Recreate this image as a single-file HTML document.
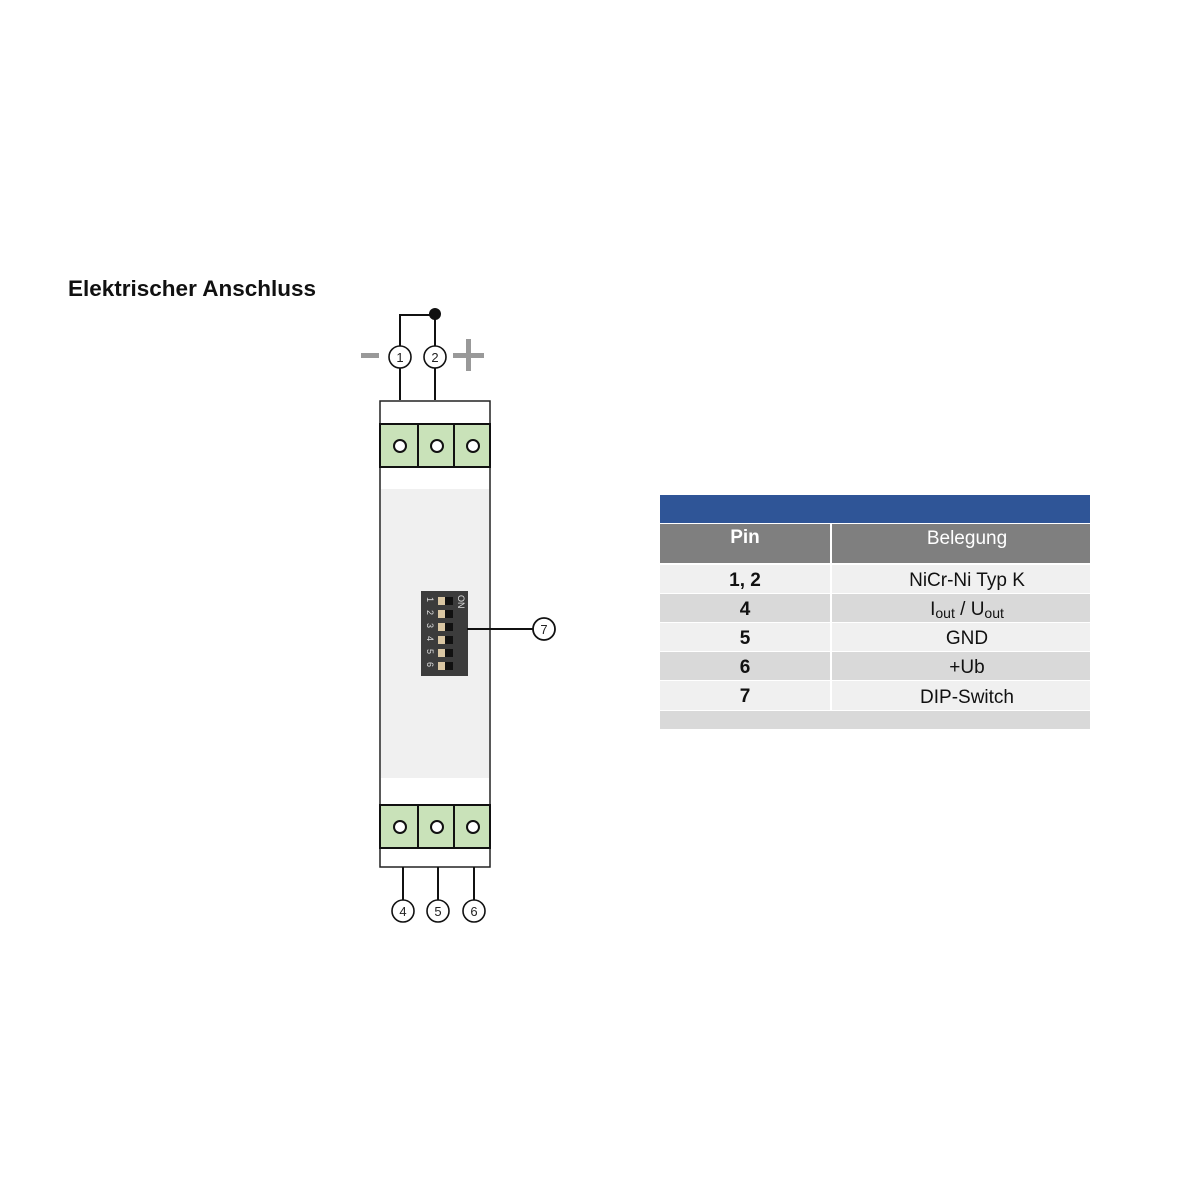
<!DOCTYPE html>
<html><head><meta charset="utf-8"><style>
html,body{margin:0;padding:0;background:#fff;width:1200px;height:1200px;overflow:hidden}
</style></head><body>
<svg width="1200" height="1200" viewBox="0 0 1200 1200" xmlns="http://www.w3.org/2000/svg" font-family="Liberation Sans, Arial, sans-serif">
<text x="68" y="296" font-size="22.5" font-weight="bold" fill="#111">Elektrischer Anschluss</text>
<g stroke="#111" stroke-width="2" fill="none">
<polyline points="400,400 400,315 435,315"/>
<line x1="435" y1="315" x2="435" y2="400"/>
</g>
<circle cx="435" cy="314" r="6" fill="#111"/>
<g stroke="#111" stroke-width="1.6" fill="#fff">
<circle cx="400" cy="357" r="11"/>
<circle cx="435" cy="357" r="11"/>
</g>
<text x="400" y="362" font-size="13" text-anchor="middle" fill="#222">1</text>
<text x="435" y="362" font-size="13" text-anchor="middle" fill="#222">2</text>
<rect x="361" y="353" width="18" height="5" fill="#999"/>
<rect x="453" y="353" width="31" height="5" fill="#999"/>
<rect x="466" y="339" width="5" height="32" fill="#999"/>
<rect x="380" y="401" width="110" height="466" fill="#fff" stroke="#222" stroke-width="1.5"/>
<rect x="381" y="489" width="108" height="289" fill="#f0f0f0"/>
<g stroke="#111" stroke-width="2">
<rect x="380" y="424" width="110" height="43" fill="#c9e2b9"/>
<line x1="418" y1="424" x2="418" y2="467"/>
<line x1="454" y1="424" x2="454" y2="467"/>
<rect x="380" y="805" width="110" height="43" fill="#c9e2b9"/>
<line x1="418" y1="805" x2="418" y2="848"/>
<line x1="454" y1="805" x2="454" y2="848"/>
</g>
<g stroke="#111" stroke-width="2" fill="#fff">
<circle cx="400" cy="446" r="6"/><circle cx="437" cy="446" r="6"/><circle cx="473" cy="446" r="6"/>
<circle cx="400" cy="827" r="6"/><circle cx="437" cy="827" r="6"/><circle cx="473" cy="827" r="6"/>
</g>
<g stroke="#111" stroke-width="2">
<line x1="403" y1="867" x2="403" y2="900"/>
<line x1="438" y1="867" x2="438" y2="900"/>
<line x1="474" y1="867" x2="474" y2="900"/>
</g>
<g stroke="#111" stroke-width="1.6" fill="#fff">
<circle cx="403" cy="911" r="11"/><circle cx="438" cy="911" r="11"/><circle cx="474" cy="911" r="11"/>
</g>
<g font-size="13" text-anchor="middle" fill="#222">
<text x="403" y="916">4</text><text x="438" y="916">5</text><text x="474" y="916">6</text>
</g>
<rect x="421" y="591" width="47" height="85" fill="#3c3c3c"/>
<g fill="#d9c6a3">
<rect x="438" y="597" width="7" height="8"/><rect x="438" y="610" width="7" height="8"/>
<rect x="438" y="623" width="7" height="8"/><rect x="438" y="636" width="7" height="8"/>
<rect x="438" y="649" width="7" height="8"/><rect x="438" y="662" width="7" height="8"/>
</g>
<g fill="#111">
<rect x="445" y="597" width="8" height="8"/><rect x="445" y="610" width="8" height="8"/>
<rect x="445" y="623" width="8" height="8"/><rect x="445" y="636" width="8" height="8"/>
<rect x="445" y="649" width="8" height="8"/><rect x="445" y="662" width="8" height="8"/>
</g>
<g fill="#ddd" font-size="9">
<text transform="translate(427,597) rotate(90)">1</text>
<text transform="translate(427,610) rotate(90)">2</text>
<text transform="translate(427,623) rotate(90)">3</text>
<text transform="translate(427,636) rotate(90)">4</text>
<text transform="translate(427,649) rotate(90)">5</text>
<text transform="translate(427,662) rotate(90)">6</text>
<text transform="translate(458,595) rotate(90)">ON</text>
</g>
<line x1="467" y1="629" x2="533" y2="629" stroke="#111" stroke-width="2"/>
<circle cx="544" cy="629" r="11" fill="#fff" stroke="#111" stroke-width="1.8"/>
<text x="544" y="634" font-size="13" text-anchor="middle" fill="#222">7</text>
<rect x="660" y="495" width="430" height="28" fill="#2f5597"/>
<rect x="660" y="524" width="170" height="39" fill="#7f7f7f"/>
<rect x="832" y="524" width="258" height="39" fill="#7f7f7f"/>
<g>
<rect x="660" y="565" width="170" height="28" fill="#f0f0f0"/><rect x="832" y="565" width="258" height="28" fill="#f0f0f0"/>
<rect x="660" y="594" width="170" height="28" fill="#d9d9d9"/><rect x="832" y="594" width="258" height="28" fill="#d9d9d9"/>
<rect x="660" y="623" width="170" height="28" fill="#f0f0f0"/><rect x="832" y="623" width="258" height="28" fill="#f0f0f0"/>
<rect x="660" y="652" width="170" height="28" fill="#d9d9d9"/><rect x="832" y="652" width="258" height="28" fill="#d9d9d9"/>
<rect x="660" y="681" width="170" height="29" fill="#f0f0f0"/><rect x="832" y="681" width="258" height="29" fill="#f0f0f0"/>
<rect x="660" y="711" width="430" height="18" fill="#d9d9d9"/>
</g>
<g font-size="19" text-anchor="middle">
<text x="745" y="543" fill="#fff" font-weight="bold">Pin</text>
<text x="967" y="544" fill="#fff">Belegung</text>
<g fill="#111" font-weight="bold">
<text x="745" y="586">1, 2</text><text x="745" y="615">4</text><text x="745" y="644">5</text>
<text x="745" y="673">6</text><text x="745" y="702">7</text>
</g>
<g fill="#111">
<text x="967" y="586">NiCr-Ni Typ K</text>
<text x="967" y="615">I<tspan font-size="14" dy="3">out</tspan><tspan dy="-3"> / U</tspan><tspan font-size="14" dy="3">out</tspan></text>
<text x="967" y="644">GND</text>
<text x="967" y="673">+Ub</text>
<text x="967" y="703">DIP-Switch</text>
</g>
</g>
</svg>
</body></html>
